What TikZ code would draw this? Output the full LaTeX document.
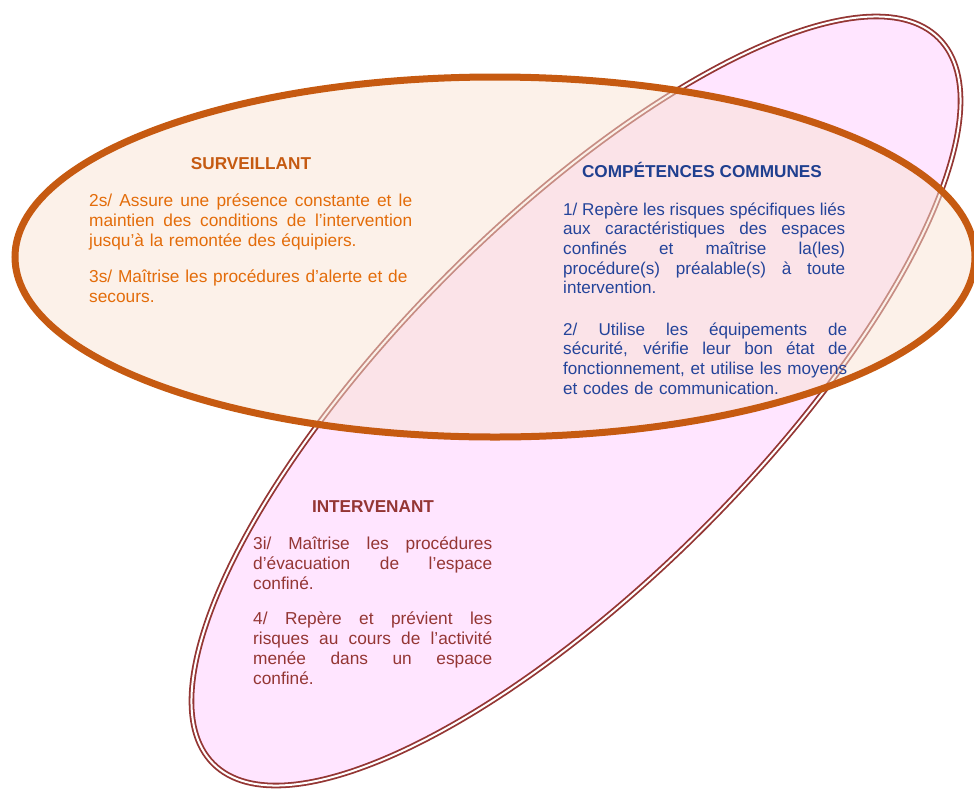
\documentclass[tikz,border=0pt]{standalone}
\usepackage{fontspec}
\setmainfont{Liberation Sans}
\definecolor{orline}{HTML}{C65A11}
\definecolor{orfill}{HTML}{F9E3D3}
\definecolor{pinkfill}{HTML}{FFE5FF}
\definecolor{pinkline}{HTML}{943634}
\definecolor{survtitle}{HTML}{C55A11}
\definecolor{survtext}{HTML}{E36C0A}
\definecolor{cctitle}{HTML}{1F3F8F}
\definecolor{cctext}{HTML}{24449A}
\definecolor{intvtext}{HTML}{943634}
\newcommand\jline[2]{\leavevmode\hbox to #1{\spaceskip=0.278em plus 1fil\relax\xspaceskip=0.278em plus 1fil\relax #2}}
\tikzset{
  bodytext/.style={anchor=north west, inner sep=0pt, align=left, text width=340pt},
  titletext/.style={anchor=base, inner sep=0pt, font=\fontsize{17.2}{20}\selectfont\bfseries},
}
\begin{document}
\begin{tikzpicture}[x=1pt,y=-1pt]
\useasboundingbox (0,0) rectangle (974,788);
% pink ellipse (intervenant)
\path[fill=pinkfill, draw=pinkline, line width=1.8pt, double=white, double distance=2pt,
      rotate around={45:(576,401)}] (576,401) ellipse [x radius=513pt, y radius=180pt];
% orange ellipse (surveillant)
\fill[orfill, fill opacity=0.5] (495,257) ellipse [x radius=480pt, y radius=180pt];
\draw[orline, line width=7pt] (495,257) ellipse [x radius=480pt, y radius=180pt];

% SURVEILLANT
\node[titletext, text=survtitle] (survt) at (251,169) {SURVEILLANT};
\node[bodytext, text=survtext, font=\fontsize{17.3}{20}\selectfont] (survb) at (89,190) {%
\rule{0pt}{16pt}\jline{323pt}{2s/ Assure une présence constante et le}\\
\jline{323pt}{maintien des conditions de l’intervention}\\
jusqu’à la remontée des équipiers.\\[16pt]
3s/ Maîtrise les procédures d’alerte et de\\
secours.};

% COMPETENCES COMMUNES
\node[titletext, text=cctitle] (cct) at (702,177) {COMPÉTENCES COMMUNES};
\node[bodytext, text=cctext, font=\fontsize{17.1}{19.6}\selectfont] (ccb) at (563,199) {%
\rule{0pt}{16pt}\jline{282pt}{1/ Repère les risques spécifiques liés}\\
\jline{282pt}{aux caractéristiques des espaces}\\
\jline{282pt}{confinés et maîtrise la(les)}\\
\jline{282pt}{procédure(s) préalable(s) à toute}\\
intervention.\\[22pt]
\jline{284pt}{2/ Utilise les équipements de}\\
\jline{284pt}{sécurité, vérifie leur bon état de}\\
\jline{284pt}{fonctionnement, et utilise les moyens}\\
et codes de communication.};

% INTERVENANT
\node[titletext, text=intvtext] (intt) at (373,512) {INTERVENANT};
\node[bodytext, text=intvtext, font=\fontsize{17.3}{20}\selectfont] (intb) at (253,533) {%
\rule{0pt}{16pt}\jline{239pt}{3i/ Maîtrise les procédures}\\
\jline{239pt}{d’évacuation de l’espace}\\
confiné.\\[15pt]
\jline{239pt}{4/ Repère et prévient les}\\
\jline{239pt}{risques au cours de l’activité}\\
\jline{239pt}{menée dans un espace}\\
confiné.};
\end{tikzpicture}
\end{document}
